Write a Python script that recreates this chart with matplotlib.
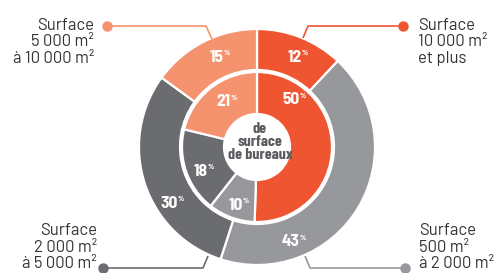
import matplotlib
matplotlib.use("Agg")
import matplotlib.pyplot as plt
from matplotlib import font_manager

# data (clockwise from 12 o'clock)
outer_vals = [12, 43, 30, 15]
inner_vals = [50, 10, 18, 21]
colors = ["#ef5530", "#97989c", "#6b6c70", "#f4936e"]
cat_labels = ["Surface\n10 000 m²\net plus",
              "Surface\n500 m²\nà 2 000 m²",
              "Surface\n2 000 m²\nà 5 000 m²",
              "Surface\n5 000 m²\nà 10 000 m²"]
center_text = "de\nsurface\nde bureaux"

W, H = 501, 273
cx, cy = 257, H - 147

installed = {f.name for f in font_manager.fontManager.ttflist}
narrow = "Barlow Condensed" if "Barlow Condensed" in installed else "DejaVu Sans"
semi = "Barlow Semi Condensed" if "Barlow Semi Condensed" in installed else narrow
body = "Barlow" if "Barlow" in installed else "Roboto"

fig = plt.figure(figsize=(W / 100, H / 100), dpi=100)
ax = fig.add_axes([0, 0, 1, 1])

wp = dict(edgecolor="white", linewidth=1.6)
ax.pie(outer_vals, radius=118, center=(cx, cy), startangle=90, counterclock=False,
       colors=colors, wedgeprops=dict(width=41, **wp))
ax.pie(inner_vals, radius=75, center=(cx, cy), startangle=90, counterclock=False,
       colors=colors, wedgeprops=dict(width=42, **wp))

ax.set_xlim(0, W)
ax.set_ylim(0, H)
ax.set_aspect("equal")
ax.axis("off")

# percentage labels (pixel positions from the top)
outer_pos = [(292, 57), (290, 242), (168, 203), (214, 57)]
inner_pos = [(290, 100), (233, 205), (198, 171), (221, 102)]


def pct(v, x, y):
    ax.text(x + 10, H - y, str(v), color="white", fontsize=12.5, fontweight="bold",
            family=semi, ha="right", va="center")
    ax.text(x + 10, H - y + 4, "%", color="white", fontsize=6, fontweight="bold",
            family=narrow, ha="left", va="center")


for v, (x, y) in zip(outer_vals, outer_pos):
    pct(v, x, y)
for v, (x, y) in zip(inner_vals, inner_pos):
    pct(v, x, y)

ax.text(cx + 3, H - 142, center_text, color="#5b5c60", fontsize=11.5, fontweight="bold",
        family=narrow, ha="center", va="center", linespacing=0.9)

# leader lines: dot -> elbow -> ring
leaders = [
    [(403, 26), (308, 26), (303, 38)],
    [(405, 268), (310, 268), (305, 256)],
    [(103, 268), (203, 268), (208, 256)],
    [(107, 26), (206, 26), (212, 39)],
]
for pts, c in zip(leaders, colors):
    xs = [p[0] for p in pts]
    ys = [H - p[1] for p in pts]
    ax.plot(xs, ys, color=c, lw=1.2, solid_capstyle="butt")
    ax.plot(xs[0], ys[0], "o", color=c, ms=6.5)

txt = dict(color="#333333", fontsize=12, family=body, linespacing=1.1, va="center")
ax.text(418, H - 42, cat_labels[0], ha="left", **txt)
ax.text(419, H - 247, cat_labels[1], ha="left", **txt)
ax.text(97, H - 247, cat_labels[2], ha="right", multialignment="right", **txt)
ax.text(94, H - 42, cat_labels[3], ha="right", multialignment="right", **txt)

fig.savefig("out.png", dpi=100)
